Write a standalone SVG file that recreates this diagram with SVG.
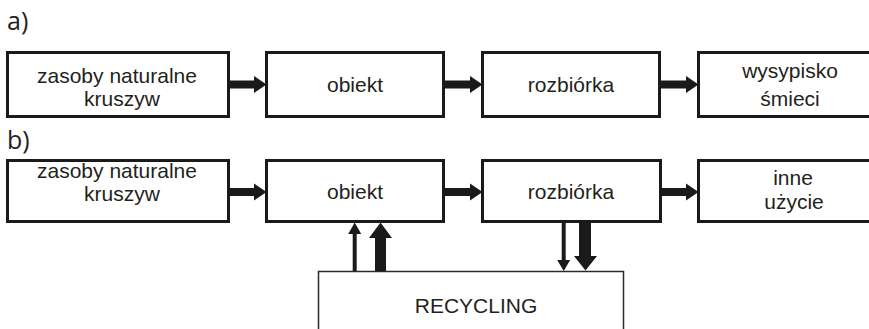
<svg xmlns="http://www.w3.org/2000/svg" width="869" height="329" viewBox="0 0 869 329">
<style>
.box{fill:#fff;stroke:#1a1a1a;stroke-width:3}
.rec{fill:#fff;stroke:#2a2a2a;stroke-width:1.5}
.t{font-family:"Liberation Sans",Arial,sans-serif;font-size:21px;fill:#231f20;text-anchor:middle}
.lbl{font-family:"Open Sans","Liberation Sans",sans-serif;font-size:25px;fill:#231f20}
.arr{fill:#1a1a1a}
</style>
<rect width="869" height="329" fill="#fff"/>
<text class="lbl" x="7" y="30">a)</text>
<text class="lbl" x="7" y="149">b)</text>

<g id="a-zasoby"><rect class="box" x="7.5" y="52.5" width="221" height="64"/>
<text class="t" x="117" y="83">zasoby naturalne</text><text class="t" x="122" y="106">kruszyw</text></g>
<g id="a-obiekt"><rect class="box" x="266.5" y="52.5" width="177" height="64"/>
<text class="t" x="355" y="92">obiekt</text></g>
<g id="a-rozbiorka"><rect class="box" x="482.5" y="52.5" width="177" height="64"/>
<text class="t" x="571" y="92">rozbiórka</text></g>
<g id="a-wysypisko"><path class="box" d="M872 52.5H698.5V116.5H872"/>
<text class="t" x="790" y="78">wysypisko</text><text class="t" x="790" y="106">śmieci</text></g>

<g id="b-zasoby"><rect class="box" x="7.5" y="160.5" width="221" height="61"/>
<text class="t" x="117" y="178">zasoby naturalne</text><text class="t" x="122" y="201">kruszyw</text></g>
<g id="b-obiekt"><rect class="box" x="266.5" y="160.5" width="177" height="61"/>
<text class="t" x="355" y="199">obiekt</text></g>
<g id="b-rozbiorka"><rect class="box" x="482.5" y="160.5" width="178" height="61"/>
<text class="t" x="571" y="199">rozbiórka</text></g>
<g id="b-inne"><path class="box" d="M872 160.5H698.5V221.5H872"/>
<text class="t" x="793" y="185">inne</text><text class="t" x="794" y="209">użycie</text></g>

<g id="recycling"><rect class="rec" x="318.5" y="271.5" width="305" height="70"/>
<text class="t" x="476" y="313">RECYCLING</text></g>

<g id="connectors">
<path class="arr" d="M230 80.5H254V76L266.5 84.5L254 93V88.5H230Z"/>
<path class="arr" d="M445 80.5H470V76L482.5 84.5L470 93V88.5H445Z"/>
<path class="arr" d="M661 80.5H686V76L698.5 84.5L686 93V88.5H661Z"/>
<path class="arr" d="M230 188H254V183.5L266.5 192L254 200.5V196H230Z"/>
<path class="arr" d="M445 188H470V183.5L482.5 192L470 200.5V196H445Z"/>
<path class="arr" d="M662 188H686V183.5L698.5 192L686 200.5V196H662Z"/>
<path class="arr" d="M352.7 271V234H348.2L354.7 222.5L361.2 234H356.7V271Z"/>
<path class="arr" d="M375 271V238H369L380.5 222.5L392 238H386V271Z"/>
<path class="arr" d="M561.7 223V260H557.2L563.7 271L570.2 260H565.7V223Z"/>
<path class="arr" d="M579 223V256H574L585.5 270.5L597 256H591V223Z"/>
</g>
</svg>
